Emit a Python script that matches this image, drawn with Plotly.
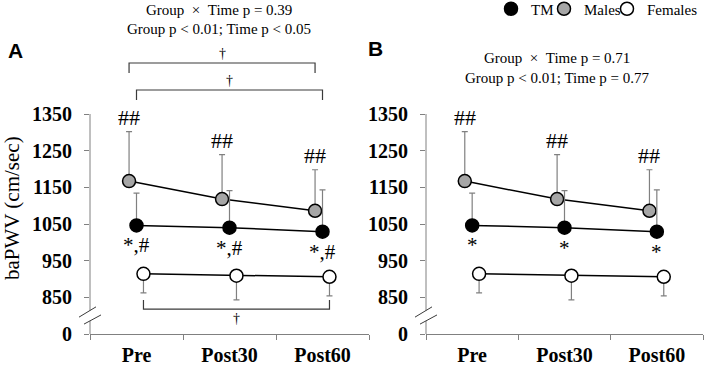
import plotly.graph_objects as go

# ---------------- data ----------------
categories = ["Pre", "Post30", "Post60"]

tm_mean_a = [1046, 1040, 1029]
tm_sd_a = [88, 101, 114]
males_mean_a = [1167, 1118, 1086]
males_sd_a = [135, 121, 112]
females_mean_a = [914, 909, 906]
females_sd_a = [52, 66, 52]

tm_mean_b = [1046, 1040, 1029]
tm_sd_b = [88, 101, 114]
males_mean_b = [1167, 1118, 1086]
males_sd_b = [135, 121, 112]
females_mean_b = [914, 909, 906]
females_sd_b = [52, 66, 52]

y_tickvals = [750, 850, 950, 1050, 1150, 1250, 1350]
y_ticktext = ["0", "850", "950", "1050", "1150", "1250", "1350"]

marks_tm_a = ["*,#", "*,#", "*,#"]
marks_tm_b = ["*", "*", "*"]
marks_males = ["##", "##", "##"]

NB = "\u00a0"
title_a = [f"Group{NB}{NB}\u00d7{NB}{NB}Time p = 0.39", "Group p < 0.01; Time p < 0.05"]
title_b = [f"Group{NB}{NB}\u00d7{NB}{NB}Time p = 0.71", "Group p < 0.01; Time p = 0.77"]

# ---------------- style ----------------
W, H = 706, 367
SERIF = "Liberation Serif"
SANS = "Liberation Sans"
GRAY = "#808080"
DARK = "#3a3a3a"
OFF = {"Males": -0.08, "TM": 0.0, "Females": 0.075}
FILL = {"TM": "black", "Males": "#a6a6a6", "Females": "white"}
idx = list(range(len(categories)))

fig = go.Figure()


def add_panel(xa, ya, tm_m, tm_s, ma_m, ma_s, fe_m, fe_s):
    groups = [
        ("Males", ma_m, ma_s, True),
        ("TM", tm_m, tm_s, True),
        ("Females", fe_m, fe_s, False),
    ]
    for name, m, s, up in groups:
        zeros = [0] * len(s)
        fig.add_trace(go.Scatter(
            x=[i + OFF[name] for i in idx], y=m, name=name,
            mode="lines+markers", xaxis=xa, yaxis=ya, showlegend=False,
            hoverinfo="skip",
            line=dict(color="black", width=1.5),
            marker=dict(size=13, color=FILL[name],
                        line=dict(color="black", width=1.5)),
            error_y=dict(type="data", symmetric=False,
                         array=s if up else zeros,
                         arrayminus=zeros if up else s,
                         color=GRAY, thickness=1.2, width=3),
        ))


add_panel("x", "y", tm_mean_a, tm_sd_a, males_mean_a, males_sd_a,
          females_mean_a, females_sd_a)
add_panel("x2", "y2", tm_mean_b, tm_sd_b, males_mean_b, males_sd_b,
          females_mean_b, females_sd_b)

# legend-only entries (markers only), each in its own legend
for name, lg in [("TM", "legend"), ("Males", "legend2"), ("Females", "legend3")]:
    fig.add_trace(go.Scatter(
        x=[None], y=[None], mode="markers", name=name, legend=lg,
        marker=dict(size=13, color=FILL[name],
                    line=dict(color="black", width=1.5)),
    ))

ydom = [(H - 334) / H, (H - 114) / H]
axis_common_x = dict(
    range=[-0.5, 2.5], tickmode="array", tickvals=idx, ticktext=categories,
    ticks="", showline=True, linecolor=GRAY, linewidth=1,
    showgrid=False, zeroline=False, ticklabelstandoff=3,
    tickfont=dict(family=SERIF, size=20, color="black", weight="bold"),
    minor=dict(tick0=-0.5, dtick=1, ticks="outside", ticklen=5,
               tickcolor=GRAY, tickwidth=1),
    fixedrange=True,
)
axis_common_y = dict(
    range=[750, 1350], domain=ydom, tickmode="array", tickvals=y_tickvals,
    ticktext=y_ticktext, ticks="outside", ticklen=5, tickcolor=GRAY,
    tickwidth=1,
    showline=False, showgrid=False, zeroline=False, ticklabelstandoff=8,
    tickfont=dict(family=SERIF, size=20, color="black", weight="bold"),
    fixedrange=True,
)

legend_common = dict(y=(H - 9) / H, xanchor="left", yanchor="middle",
                     bgcolor="rgba(0,0,0,0)", borderwidth=0,
                     font=dict(family=SERIF, size=15, color="black"))

fig.update_layout(
    template="none",
    width=W, height=H, autosize=False,
    margin=dict(l=0, r=0, t=0, b=0, pad=0, autoexpand=False),
    paper_bgcolor="white", plot_bgcolor="white",
    font=dict(family=SERIF, color="black"),
    xaxis=dict(domain=[90 / W, 369 / W], anchor="y", **axis_common_x),
    yaxis=dict(anchor="x", **axis_common_y),
    xaxis2=dict(domain=[426 / W, 703 / W], anchor="y2", **axis_common_x),
    yaxis2=dict(anchor="x2", **axis_common_y),
    legend=dict(x=491 / W, **legend_common),
    legend2=dict(x=544 / W, **legend_common),
    legend3=dict(x=607 / W, **legend_common),
)

shapes = []
annotations = []

# broken y axis lines
for xd, yr in [("x domain", "y"), ("x2 domain", "y2")]:
    shapes.append(dict(type="line", xref=xd, yref=yr, x0=0, x1=0,
                       y0=814, y1=1350, line=dict(color=GRAY, width=1)))
    shapes.append(dict(type="line", xref=xd, yref=yr, x0=0, x1=0,
                       y0=750, y1=786, line=dict(color=GRAY, width=1)))
    shapes.append(dict(type="line", xref=xd, yref=yr, xsizemode="pixel",
                       xanchor=0, x0=-11, x1=6, y0=796, y1=824,
                       line=dict(color=DARK, width=1)))
    shapes.append(dict(type="line", xref=xd, yref=yr, xsizemode="pixel",
                       xanchor=0, x0=-6, x1=11, y0=777, y1=802,
                       line=dict(color=DARK, width=1)))


def bracket(x0, x1, ybar, yend, yref):
    return dict(type="path", xref="x", yref=yref,
                path=f"M {x0},{yend} L {x0},{ybar} L {x1},{ybar} L {x1},{yend}",
                line=dict(color=DARK, width=1.2))


# panel A brackets (Males, TM above; Females below)
shapes.append(bracket(idx[0] + OFF["Males"], idx[-1] + OFF["Males"],
                      (H - 63) / H, (H - 73) / H, "paper"))
shapes.append(bracket(idx[0] + OFF["TM"], idx[-1] + OFF["TM"],
                      (H - 90) / H, (H - 100) / H, "paper"))
shapes.append(bracket(idx[0] + OFF["Females"], idx[-1] + OFF["Females"],
                      818, 843, "y"))

dagger_font = dict(family=SERIF, size=14, color="black")
for xm, yb in [((OFF["Males"] * 2 + idx[0] + idx[-1]) / 2, (H - 63) / H),
               ((OFF["TM"] * 2 + idx[0] + idx[-1]) / 2, (H - 90) / H)]:
    annotations.append(dict(x=xm, y=yb, xref="x", yref="paper", text="\u2020",
                            showarrow=False, yanchor="bottom", font=dagger_font))
annotations.append(dict(x=(OFF["Females"] * 2 + idx[0] + idx[-1]) / 2, y=818,
                        xref="x", yref="y", text="\u2020", showarrow=False,
                        yanchor="top", font=dagger_font))

# significance marks
for xa, ya, mm, ms, tmm, tmarks in [
    ("x", "y", males_mean_a, males_sd_a, tm_mean_a, marks_tm_a),
    ("x2", "y2", males_mean_b, males_sd_b, tm_mean_b, marks_tm_b),
]:
    for i in idx:
        annotations.append(dict(x=i + OFF["Males"], y=mm[i] + ms[i], xref=xa,
                                yref=ya, text=marks_males[i], showarrow=False,
                                yanchor="bottom", yshift=0,
                                font=dict(family=SERIF, size=22, color="black")))
        annotations.append(dict(x=i + OFF["TM"], y=tmm[i], xref=xa, yref=ya,
                                text=tmarks[i], showarrow=False,
                                yanchor="top", yshift=-6,
                                font=dict(family=SERIF, size=21, color="black")))

# titles
for txt, px, py in [(title_a[0], 219, 10), (title_a[1], 219, 29),
                    (title_b[0], 557, 58), (title_b[1], 557, 78)]:
    annotations.append(dict(x=px / W, y=(H - py) / H, xref="paper",
                            yref="paper", text=txt, showarrow=False,
                            xanchor="center", yanchor="middle",
                            font=dict(family=SERIF, size=15, color="black")))

# panel letters
for txt, px, py in [("A", 15, 50), ("B", 375, 49)]:
    annotations.append(dict(x=px / W, y=(H - py) / H, xref="paper",
                            yref="paper", text=txt, showarrow=False,
                            xanchor="center", yanchor="middle",
                            font=dict(family=SANS, size=21, weight="bold",
                                      color="black")))

# y-axis title
annotations.append(dict(x=12 / W, y=(H - 208) / H, xref="paper", yref="paper",
                        text="baPWV (cm/sec)", textangle=-90, showarrow=False,
                        xanchor="center", yanchor="middle",
                        font=dict(family=SERIF, size=21, color="black")))

fig.update_layout(shapes=shapes, annotations=annotations)
fig.write_html(
    "out.html",
    config={"displayModeBar": False, "staticPlot": True},
    post_script="document.body.style.margin='0';document.body.style.overflow='hidden';",
)
